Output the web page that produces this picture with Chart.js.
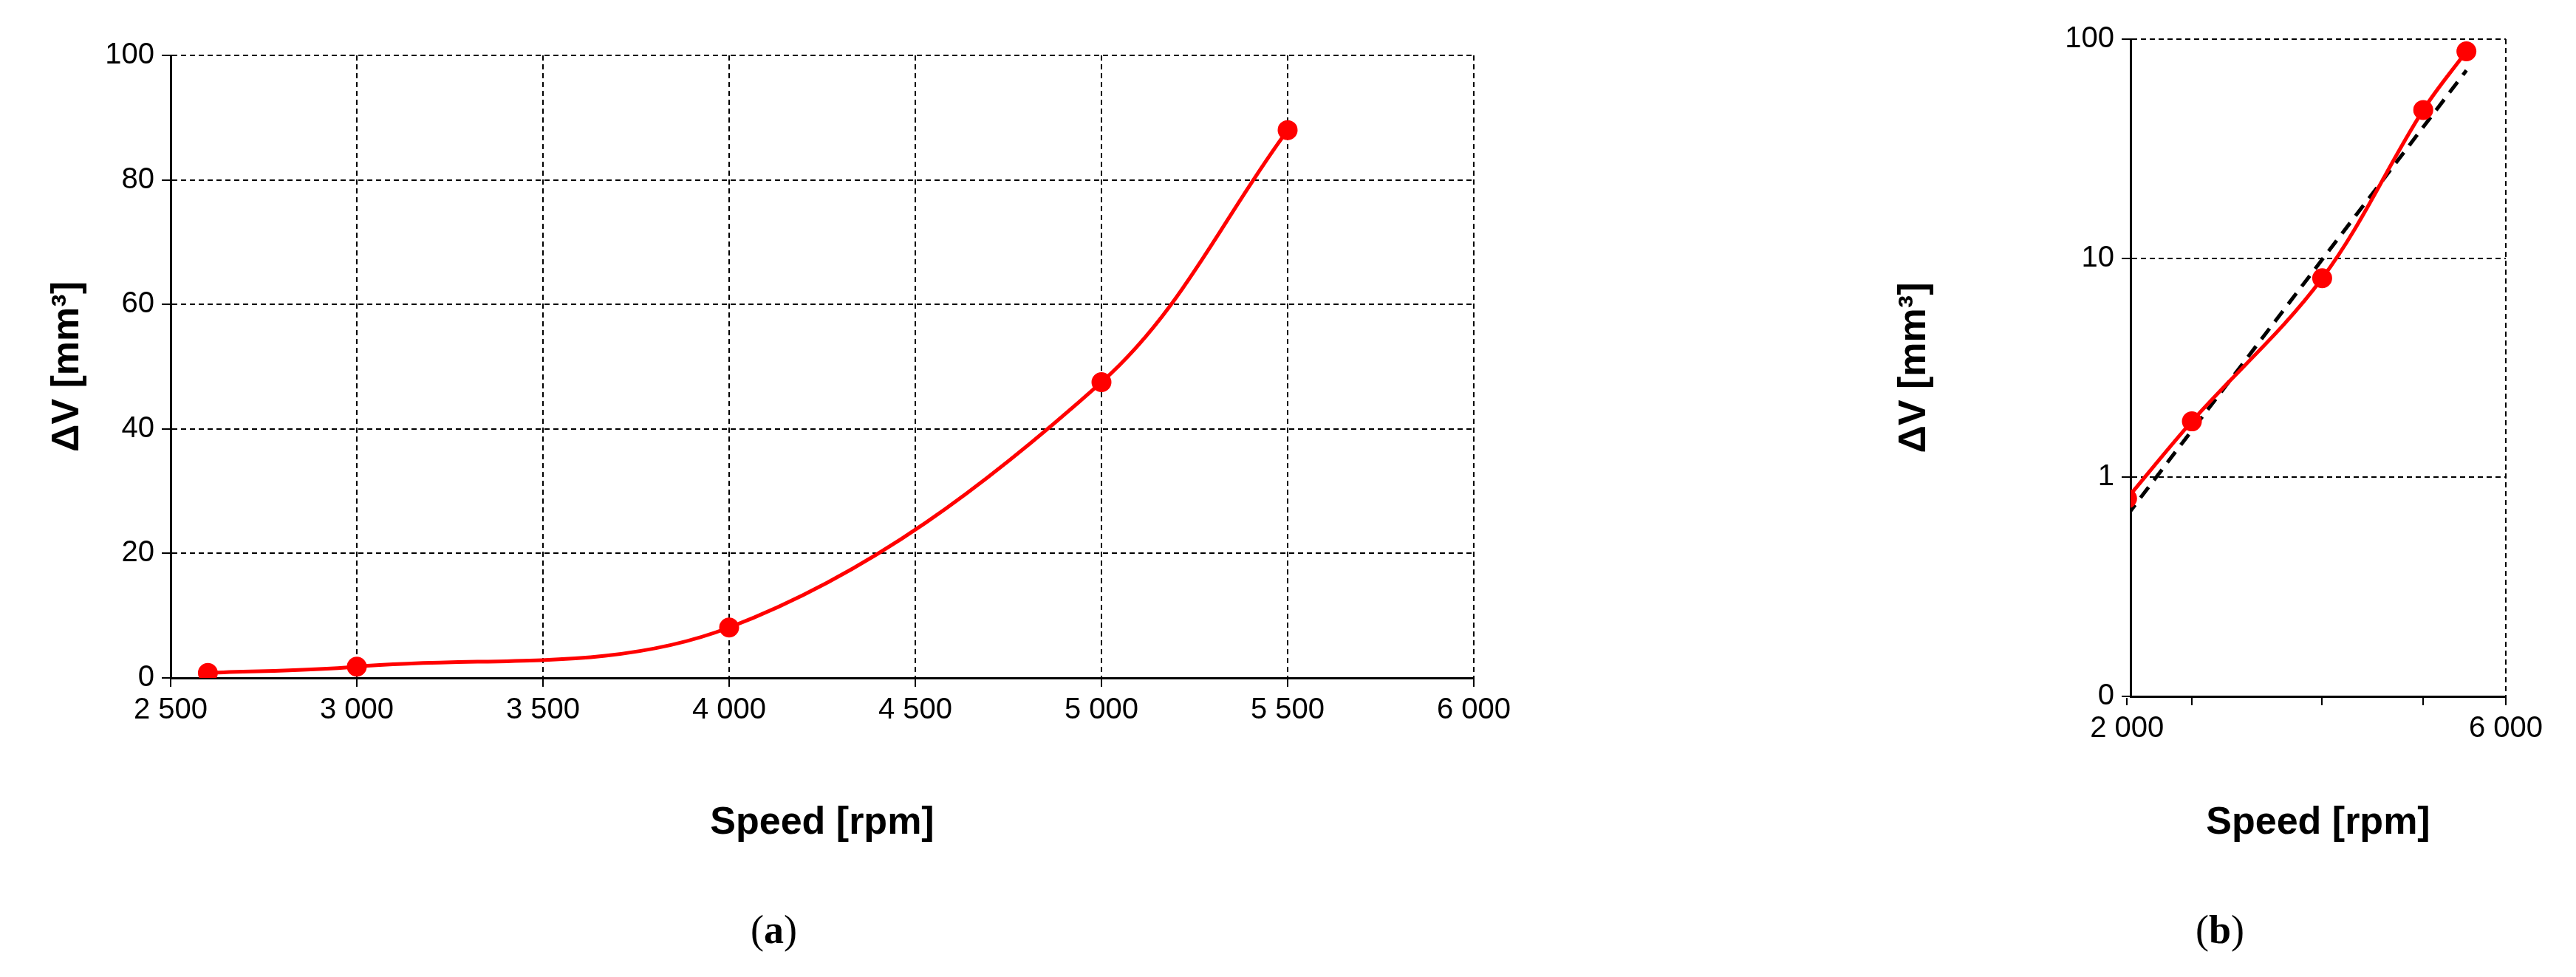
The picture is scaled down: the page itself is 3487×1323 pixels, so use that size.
<!DOCTYPE html>
<html>
<head>
<meta charset="utf-8">
<script src="https://cdn.jsdelivr.net/npm/chart.js@4"></script>
<style>
  body { margin: 0; background: #fff; width: 3487px; height: 1323px; position: relative; overflow: hidden; }
  canvas { position: absolute; }
  .cap { position: absolute; top: 1228px; font-family: "Liberation Serif", "DejaVu Serif", serif; font-size: 54px; }
</style>
</head>
<body>
<canvas id="chartA" width="2100" height="1150" style="left:0;top:0"></canvas>
<canvas id="chartB" width="987" height="1150" style="left:2500px;top:0"></canvas>
<div class="cap" style="left:1016px">(<b>a</b>)</div>
<div class="cap" style="left:2972px">(<b>b</b>)</div>
<script>
// Datos
const speeds = [2600, 3000, 4000, 5000, 5500];
const deltaV = [0.8, 1.8, 8.1, 47.5, 88];
const fitSpeeds = [2600, 5500];
const fitValues = [0.67, 72];
const xTicksA = [2500, 3000, 3500, 4000, 4500, 5000, 5500, 6000];
const yTicksA = [0, 20, 40, 60, 80, 100];
const yTicksB = [0.1, 1, 10, 100];
const xTicksB = [2600, 3000, 4000, 5000, 6000];

const fmt = v => String(v).replace(/\B(?=(\d{3})+(?!\d))/g, ' ');
const tickFont = { family: 'Liberation Sans, Arial', size: 40 };
const titleFont = { family: 'Liberation Sans, Arial', size: 52, weight: 'bold' };
const dash = [7, 5];

const redLine = (data) => ({
    data,
    showLine: true,
    borderColor: '#ff0000',
    backgroundColor: '#ff0000',
    borderWidth: 5,
    pointRadius: 11,
    pointHoverRadius: 11,
    tension: 0.35
});

new Chart(document.getElementById('chartA'), {
    type: 'scatter',
    data: { datasets: [redLine(speeds.map((s, i) => ({ x: s, y: deltaV[i] })))] },
    options: {
        responsive: false, animation: false,
        layout: { padding: { top: 75, right: 105, left: 60 } },
        plugins: { legend: { display: false }, tooltip: { enabled: false } },
        scales: {
            x: {
                type: 'linear', min: 2500, max: 6000,
                afterBuildTicks: s => { s.ticks = xTicksA.map(v => ({ value: v })); },
                afterFit: s => { s.height = 232; },
                ticks: { color: '#000', font: tickFont, callback: v => fmt(v), maxRotation: 0, padding: 8 },
                grid: { color: '#000', tickColor: '#000', tickLength: 12, lineWidth: 2 },
                border: { color: '#000', width: 3, dash },
                title: { display: true, text: 'Speed [rpm]', color: '#000', font: titleFont, padding: { top: 12 } }
            },
            y: {
                min: 0, max: 100,
                afterBuildTicks: s => { s.ticks = yTicksA.map(v => ({ value: v })); },
                afterFit: s => { s.width = 171; },
                ticks: { color: '#000', font: tickFont, padding: 10 },
                grid: { color: '#000', tickColor: '#000', tickLength: 12, lineWidth: 2 },
                border: { color: '#000', width: 3, dash },
                title: { display: true, text: 'ΔV [mm³]', color: '#000', font: titleFont, padding: 0 }
            }
        }
    }
});

new Chart(document.getElementById('chartB'), {
    type: 'scatter',
    data: {
        datasets: [
            redLine(speeds.map((s, i) => ({ x: s, y: deltaV[i] }))),
            {
                data: fitSpeeds.map((s, i) => ({ x: s, y: fitValues[i] })),
                showLine: true, borderColor: '#000', borderWidth: 5, borderDash: [18, 12],
                pointRadius: 0
            }
        ]
    },
    options: {
        responsive: false, animation: false,
        layout: { padding: { top: 53, right: 95, left: 60 } },
        plugins: { legend: { display: false }, tooltip: { enabled: false } },
        scales: {
            x: {
                type: 'logarithmic', min: 2620, max: 6000,
                afterBuildTicks: s => { s.ticks = xTicksB.map(v => ({ value: v })); },
                afterFit: s => { s.height = 207; },
                ticks: {
                    color: '#000', font: tickFont, maxRotation: 0, padding: 8, autoSkip: false,
                    callback: (v, i) => i === 0 ? '2 000' : (v === 6000 ? '6 000' : '')
                },
                grid: {
                    color: ctx => ctx.tick && ctx.tick.value === 6000 ? '#000' : 'rgba(0,0,0,0)',
                    tickColor: '#000', tickLength: 12, lineWidth: 2
                },
                border: { color: '#000', width: 3, dash },
                title: { display: true, text: 'Speed [rpm]', color: '#000', font: titleFont, padding: { top: 12 } }
            },
            y: {
                type: 'logarithmic', min: 0.1, max: 100,
                afterBuildTicks: s => { s.ticks = yTicksB.map(v => ({ value: v })); },
                afterFit: s => { s.width = 324; },
                ticks: { color: '#000', font: tickFont, padding: 10, callback: v => v < 1 ? '0' : String(v) },
                grid: { color: '#000', tickColor: '#000', tickLength: 12, lineWidth: 2 },
                border: { color: '#000', width: 3, dash },
                title: { display: true, text: 'ΔV [mm³]', color: '#000', font: titleFont, padding: 0 }
            }
        }
    }
});
</script>
</body>
</html>
